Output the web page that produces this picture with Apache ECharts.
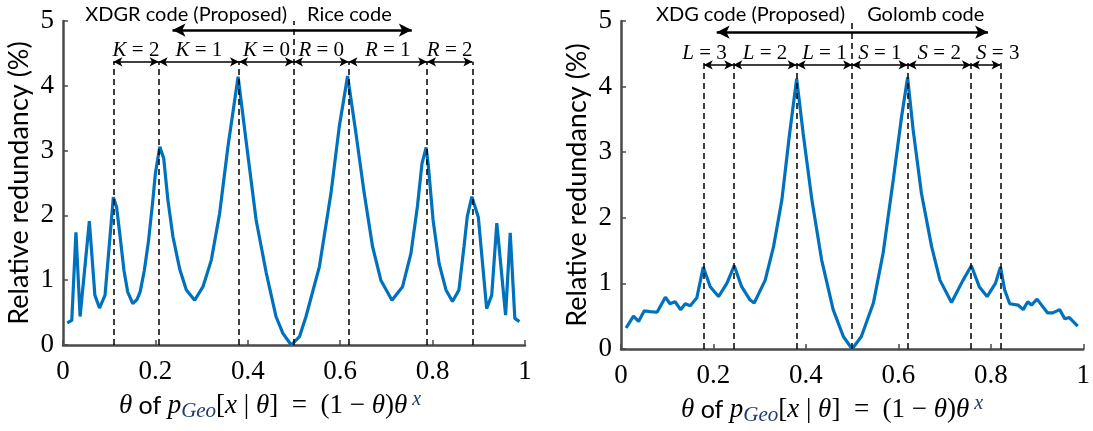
<!DOCTYPE html>
<html>
<head>
<meta charset="utf-8">
<script src="https://cdn.jsdelivr.net/npm/echarts@6/dist/echarts.min.js"></script>
<style>html,body{margin:0;background:#fff}#main{width:1093px;height:431px}</style>
</head>
<body>
<div id="main"></div>
<script>
// left panel: XDGR / Rice code
var riceTheta = [0.009, 0.019, 0.028, 0.037, 0.057, 0.069, 0.079, 0.091, 0.109, 0.116, 0.124, 0.132, 0.14, 0.151, 0.16, 0.167, 0.176, 0.185, 0.194, 0.2, 0.2095, 0.218, 0.227, 0.238, 0.253, 0.267, 0.285, 0.303, 0.321, 0.339, 0.357, 0.379, 0.397, 0.418, 0.44, 0.461, 0.476, 0.494, 0.512, 0.526, 0.555, 0.58, 0.598, 0.616, 0.634, 0.652, 0.67, 0.688, 0.712, 0.735, 0.753, 0.767, 0.777, 0.786, 0.791, 0.801, 0.814, 0.829, 0.843, 0.857, 0.868, 0.875, 0.885, 0.899, 0.917, 0.928, 0.939, 0.958, 0.968, 0.978, 0.988];
var riceRed = [0.34, 0.38, 1.74, 0.44, 1.91, 0.77, 0.57, 0.77, 2.28, 2.13, 1.65, 1.15, 0.82, 0.64, 0.7, 0.82, 1.15, 1.6, 2.2, 2.65, 3.06, 2.88, 2.24, 1.67, 1.16, 0.85, 0.69, 0.9, 1.31, 2.03, 3.06, 4.14, 3.11, 1.93, 1.11, 0.44, 0.18, 0, 0.13, 0.44, 1.21, 2.34, 3.37, 4.15, 3.27, 2.34, 1.52, 1.0, 0.69, 0.9, 1.41, 2.13, 2.8, 3.05, 2.75, 1.93, 1.26, 0.85, 0.67, 0.85, 1.52, 1.98, 2.29, 1.97, 0.56, 0.77, 1.88, 0.46, 1.73, 0.41, 0.36];
var riceBounds = [0.109, 0.207, 0.381, 0.5, 0.618, 0.788, 0.886];
var riceLabels = [['K', '2'], ['K', '1'], ['K', '0'], ['R', '0'], ['R', '1'], ['R', '2']];
var riceShift = [0, 0, 0, 0, 0, 0];

// right panel: XDG / Golomb code
var golombTheta = [0.011, 0.027, 0.038, 0.05, 0.063, 0.078, 0.096, 0.106, 0.117, 0.129, 0.139, 0.15, 0.164, 0.178, 0.193, 0.211, 0.229, 0.245, 0.261, 0.279, 0.288, 0.312, 0.33, 0.348, 0.364, 0.38, 0.394, 0.413, 0.434, 0.459, 0.481, 0.5, 0.52, 0.546, 0.567, 0.589, 0.607, 0.62, 0.632, 0.65, 0.672, 0.69, 0.715, 0.74, 0.758, 0.775, 0.792, 0.81, 0.821, 0.83, 0.841, 0.859, 0.87, 0.88, 0.888, 0.9, 0.923, 0.934, 0.949, 0.96, 0.97, 0.988];
var golombRed = [0.32, 0.5, 0.42, 0.58, 0.57, 0.56, 0.79, 0.69, 0.72, 0.6, 0.69, 0.66, 0.78, 1.25, 0.95, 0.8, 1.0, 1.27, 0.95, 0.75, 0.7, 1.05, 1.56, 2.27, 3.24, 4.12, 3.29, 2.27, 1.36, 0.6, 0.19, 0, 0.19, 0.7, 1.46, 2.58, 3.54, 4.14, 3.34, 2.37, 1.56, 1.05, 0.71, 1.05, 1.27, 0.95, 0.8, 1.0, 1.25, 0.9, 0.69, 0.67, 0.6, 0.72, 0.67, 0.76, 0.55, 0.55, 0.6, 0.46, 0.48, 0.35];
var golombBounds = [0.179, 0.243, 0.38, 0.5, 0.62, 0.757, 0.821];
var golombLabels = [['L', '3'], ['L', '2'], ['L', '1'], ['S', '1'], ['S', '2'], ['S', '3']];
var golombShift = [-14, 0, 0, 0, 0, 12];

var serif = 'Liberation Serif';
var sans = 'Lato';

function zip(xs, ys) {
    var out = [];
    for (var i = 0; i < xs.length; i++) out.push([xs[i], ys[i]]);
    return out;
}

function makeLines(bounds, labels, shift, dashTop, arrowY, bigFrom, bigTo, bigY) {
    var data = [];
    bounds.forEach(function (b) {
        data.push([{coord: [b, 0]}, {coord: [b, b === 0.5 ? 5 : dashTop]}]);
    });
    for (var i = 0; i < labels.length; i++) {
        data.push([
            {coord: [bounds[i], arrowY], symbol: 'arrow', symbolSize: [7, 9],
             lineStyle: {type: 'solid', width: 1.5},
             label: {show: true, position: 'middle', distance: 1, offset: [shift[i], 0],
                     formatter: '{i|' + labels[i][0] + '} = ' + labels[i][1]}},
            {coord: [bounds[i + 1], arrowY], symbol: 'arrow', symbolSize: [7, 9]}
        ]);
    }
    data.push([
        {coord: [bigFrom, bigY], symbol: 'arrow', symbolSize: [10, 13], lineStyle: {type: 'solid', width: 2.5}},
        {coord: [bigTo, bigY], symbol: 'arrow', symbolSize: [10, 13]}
    ]);
    return data;
}

function titles(leftText, rightText, gapL, gapR) {
    return [
        {coord: [0.5, 5], label: {position: 'left', distance: gapL, offset: [0, -6], formatter: leftText}},
        {coord: [0.5, 5], label: {position: 'right', distance: gapR, offset: [0, -6], formatter: rightText}}
    ];
}

var axisColor = '#4a4a4a';
var xName = '{i|θ}{s| of }{i|p}{sub|Geo}{m|[}{i|x}{m| | }{i|θ}{m|]  =  (1 − }{i|θ}{m|)}{i|θ}{sup| x}';
var xNameRich = {
    i: {fontFamily: serif, fontStyle: 'italic', fontSize: 27, lineHeight: 32, color: '#000'},
    m: {fontFamily: serif, fontSize: 27, lineHeight: 32, color: '#000'},
    s: {fontFamily: sans, fontSize: 25, lineHeight: 32, color: '#000'},
    sub: {fontFamily: serif, fontStyle: 'italic', fontSize: 21, lineHeight: 18, verticalAlign: 'bottom', color: '#1f3a6e'},
    sup: {fontFamily: serif, fontStyle: 'italic', fontSize: 20, lineHeight: 16, verticalAlign: 'top', color: '#1f3a6e'}
};

function xAxis(idx, shiftLeft) {
    return {
        type: 'value', gridIndex: idx, min: 0, max: 1, interval: 0.2,
        name: xName, nameLocation: 'middle', nameGap: 43,
        nameTextStyle: {fontFamily: serif, fontSize: 27, padding: [0, shiftLeft * 2, 0, 0], rich: xNameRich},
        axisLine: {show: true, onZero: false, lineStyle: {color: axisColor, width: 2.5}},
        axisTick: {show: true, inside: true, length: 5, lineStyle: {color: axisColor, width: 1.5}},
        axisLabel: {fontFamily: serif, fontSize: 27, color: '#000', margin: 13},
        splitLine: {show: false}
    };
}

function yAxis(idx) {
    return {
        type: 'value', gridIndex: idx, min: 0, max: 5, interval: 1,
        name: 'Relative redundancy (%)', nameLocation: 'middle', nameGap: 30,
        nameTextStyle: {fontFamily: sans, fontSize: 27, color: '#000'},
        axisLine: {show: true, lineStyle: {color: axisColor, width: 2.5}},
        axisTick: {show: true, inside: true, length: 5, lineStyle: {color: axisColor, width: 1.5}},
        axisLabel: {fontFamily: serif, fontSize: 27, color: '#000', margin: 9},
        splitLine: {show: false}
    };
}

function curve(idx, xs, ys, lines, marks) {
    return {
        type: 'line', xAxisIndex: idx, yAxisIndex: idx,
        data: zip(xs, ys), showSymbol: false, smooth: false,
        lineStyle: {color: '#0072BD', width: 3.2}, itemStyle: {color: '#0072BD'},
        markLine: {
            silent: true, animation: false, symbol: ['none', 'none'], precision: 4,
            lineStyle: {type: [6, 4], color: '#000', width: 1.5},
            label: {show: false, fontFamily: serif, fontSize: 21, color: '#000',
                    rich: {i: {fontFamily: serif, fontStyle: 'italic', fontSize: 21, color: '#000'}}},
            emphasis: {disabled: true},
            data: lines
        },
        markPoint: {
            silent: true, animation: false, symbol: 'circle', symbolSize: 0,
            label: {show: true, fontFamily: sans, fontSize: 20, color: '#000'},
            data: marks
        }
    };
}

var myChart = echarts.init(document.getElementById('main'));
option = {
    animation: false,
    backgroundColor: '#fff',
    textStyle: {fontFamily: serif},
    grid: [
        {left: 63, right: 568, top: 21, bottom: 86},
        {left: 621, right: 9, top: 21, bottom: 82}
    ],
    xAxis: [xAxis(0, 24), xAxis(1, 20)],
    yAxis: [yAxis(0), yAxis(1)],
    series: [
        curve(0, riceTheta, riceRed,
              makeLines(riceBounds, riceLabels, riceShift, 4.37, 4.37, 0.237, 0.755, 4.86),
              titles('XDGR code (Proposed)', 'Rice code', 7, 13)),
        curve(1, golombTheta, golombRed,
              makeLines(golombBounds, golombLabels, golombShift, 4.4, 4.33, 0.207, 0.794, 4.83),
              titles('XDG code (Proposed)', 'Golomb code', 7, 15))
    ]
};
myChart.setOption(option);
</script>
</body>
</html>
